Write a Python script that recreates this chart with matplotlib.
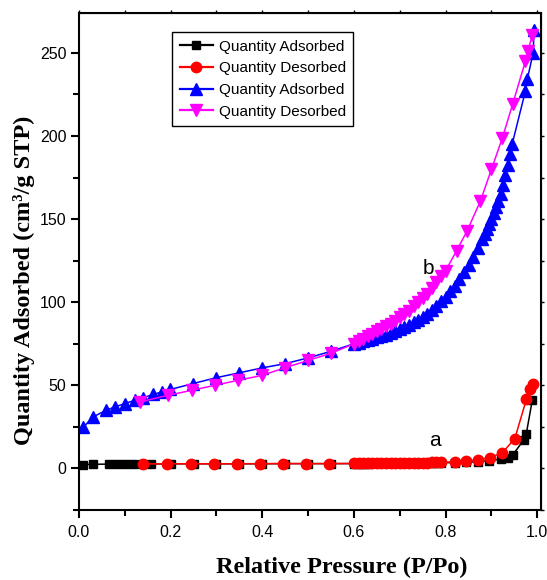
import matplotlib
matplotlib.use("Agg")
import matplotlib.pyplot as plt
from matplotlib.ticker import MultipleLocator

plt.rcParams['font.family'] = ['Liberation Sans', 'DejaVu Sans']

# sample a: adsorption branch
a_ads_x = [0.008, 0.030, 0.066, 0.082, 0.100, 0.118, 0.138, 0.158, 0.200, 0.250,
           0.300, 0.350, 0.400, 0.450, 0.500, 0.550,
           0.600, 0.610, 0.620, 0.630, 0.640, 0.650, 0.660, 0.670, 0.680, 0.690,
           0.700, 0.710, 0.720, 0.730, 0.740, 0.750, 0.760, 0.770, 0.780, 0.790,
           0.820, 0.845, 0.870, 0.895, 0.920, 0.935, 0.946, 0.970, 0.976, 0.989]
a_ads_y = [2.3, 2.5, 2.6, 2.6, 2.7, 2.7, 2.7, 2.7, 2.8, 2.8,
           2.8, 2.8, 2.8, 2.9, 2.9, 2.9,
           2.9, 2.9, 2.9, 2.9, 3.0, 3.0, 3.0, 3.0, 3.0, 3.1,
           3.1, 3.1, 3.1, 3.2, 3.2, 3.2, 3.3, 3.3, 3.3, 3.4,
           3.5, 3.7, 4.1, 4.7, 5.6, 6.5, 8.0, 17.0, 21.0, 41.0]

# sample a: desorption branch
a_des_x = [0.991, 0.984, 0.976, 0.951, 0.924, 0.897, 0.871, 0.845, 0.820,
           0.790, 0.780, 0.770, 0.760, 0.750, 0.740, 0.730, 0.720, 0.710, 0.700,
           0.690, 0.680, 0.670, 0.660, 0.650, 0.640, 0.630, 0.620, 0.610, 0.600,
           0.545, 0.495, 0.445, 0.395, 0.345, 0.295, 0.245, 0.192, 0.140]
a_des_y = [51.0, 48.0, 41.5, 18.0, 9.5, 6.5, 5.2, 4.5, 4.0,
           3.7, 3.6, 3.6, 3.5, 3.5, 3.4, 3.4, 3.3, 3.3, 3.3,
           3.2, 3.2, 3.2, 3.1, 3.1, 3.1, 3.0, 3.0, 3.0, 3.0,
           2.9, 2.9, 2.9, 2.9, 2.8, 2.8, 2.8, 2.8, 2.7]

# sample b: adsorption branch
b_ads_x = [0.009, 0.031, 0.059, 0.078, 0.100, 0.122, 0.140, 0.161, 0.181, 0.199,
           0.248, 0.298, 0.349, 0.400, 0.449, 0.500, 0.550,
           0.600, 0.610, 0.620, 0.630, 0.640, 0.650, 0.660, 0.670, 0.680, 0.690,
           0.700, 0.710, 0.720, 0.730, 0.740, 0.750, 0.760, 0.770, 0.780, 0.790,
           0.800, 0.810, 0.820, 0.830, 0.840, 0.850, 0.860, 0.870, 0.880,
           0.885, 0.890, 0.895, 0.900, 0.905, 0.910, 0.915, 0.920, 0.925, 0.930,
           0.935, 0.940, 0.945, 0.974, 0.978, 0.991, 0.993]
b_ads_y = [24.7, 31.0, 35.0, 37.0, 39.0, 41.0, 42.5, 44.5, 46.0, 47.5,
           51.0, 54.5, 57.5, 60.5, 63.0, 66.5, 70.5,
           75.0, 75.7, 76.5, 77.2, 78.0, 78.8, 79.6, 80.5, 81.5, 82.7,
           84.0, 85.2, 86.5, 88.0, 89.5, 91.2, 93.0, 95.4, 98.0, 100.5,
           103.0, 106.5, 110.0, 114.0, 118.0, 122.5, 127.0, 132.5, 138.0,
           141.0, 144.0, 147.0, 150.0, 153.5, 157.0, 161.0, 165.0, 170.5, 176.5,
           182.5, 189.0, 195.0, 227.0, 234.0, 250.0, 264.0]

# sample b: desorption branch
b_des_x = [0.989, 0.980, 0.974, 0.946, 0.924, 0.900, 0.876, 0.847, 0.824,
           0.800, 0.790, 0.780, 0.770, 0.760, 0.750, 0.740, 0.730, 0.720, 0.710,
           0.700, 0.690, 0.680, 0.670, 0.660, 0.650, 0.640, 0.630, 0.620, 0.610,
           0.600, 0.550, 0.500, 0.449, 0.399, 0.347, 0.296, 0.246, 0.194, 0.133]
b_des_y = [261.0, 251.0, 245.0, 219.0, 199.0, 180.0, 161.0, 143.0, 131.0,
           119.0, 115.5, 112.0, 108.5, 105.0, 102.5, 100.0, 97.5, 95.0, 93.0,
           91.0, 89.0, 87.0, 85.5, 84.0, 82.5, 81.0, 79.5, 78.0, 76.5,
           75.0, 69.3, 65.0, 60.5, 56.0, 53.0, 50.0, 47.0, 44.0, 40.0]

series_labels = ['Quantity Adsorbed', 'Quantity Desorbed',
                 'Quantity Adsorbed', 'Quantity Desorbed']

fig = plt.figure(figsize=(5.47, 5.80), dpi=100)
ax = fig.add_axes([0.1444, 0.1207, 0.8446, 0.8569])

ax.plot(a_ads_x, a_ads_y, color='black', marker='s', ms=6, lw=1.1,
        label=series_labels[0])
ax.plot(a_des_x, a_des_y, color='red', marker='o', ms=7.5, lw=1.1,
        label=series_labels[1])
ax.plot(b_ads_x, b_ads_y, color='blue', marker='^', ms=8, lw=1.1,
        label=series_labels[2])
ax.plot(b_des_x, b_des_y, color='magenta', marker='v', ms=8, lw=1.1,
        label=series_labels[3])

ax.text(0.777, 16.9, 'a', fontsize=15, ha='center', va='center')
ax.text(0.762, 120.5, 'b', fontsize=15, ha='center', va='center')

ax.set_xlim(0, 1.008)
ax.set_ylim(-25, 274)
ax.xaxis.set_major_locator(MultipleLocator(0.2))
ax.xaxis.set_minor_locator(MultipleLocator(0.1))
ax.yaxis.set_major_locator(MultipleLocator(50))
ax.yaxis.set_minor_locator(MultipleLocator(25))

for sp in ax.spines.values():
    sp.set_linewidth(1.5)
ax.tick_params(which='major', direction='out', length=6, width=1.5, labelsize=11.5)
ax.tick_params(which='minor', direction='out', length=4, width=1.5)
ax.tick_params(axis='x', pad=5)
ax.tick_params(axis='y', pad=3)

# short unlabeled ticks on the top and right frame
top = ax.secondary_xaxis('top')
top.xaxis.set_major_locator(MultipleLocator(0.1))
top.tick_params(direction='out', length=2.5, width=1, labeltop=False)
right = ax.secondary_yaxis('right')
right.yaxis.set_major_locator(MultipleLocator(25))
right.tick_params(direction='out', length=2.5, width=1, labelright=False)

lab_font = dict(family='Liberation Serif', weight='bold', size=17.5)
ax.set_xlabel('Relative Pressure (P/Po)', **lab_font)
ax.set_ylabel('Quantity Adsorbed (cm³/g STP)', **lab_font)
ax.xaxis.set_label_coords(0.569, -0.095)
ax.yaxis.set_label_coords(-0.095, 0.463)

leg = ax.legend(loc='upper left', bbox_to_anchor=(0.2013, 0.9618),
                borderaxespad=0, fontsize=11, numpoints=1, fancybox=False,
                framealpha=1, edgecolor='black', handlelength=2.2,
                handletextpad=0.35, labelspacing=0.5, borderpad=0.5)
leg.get_frame().set_linewidth(1.0)
for line in leg.get_lines():
    line.set_linewidth(1.6)

fig.savefig('out.png', dpi=100)
